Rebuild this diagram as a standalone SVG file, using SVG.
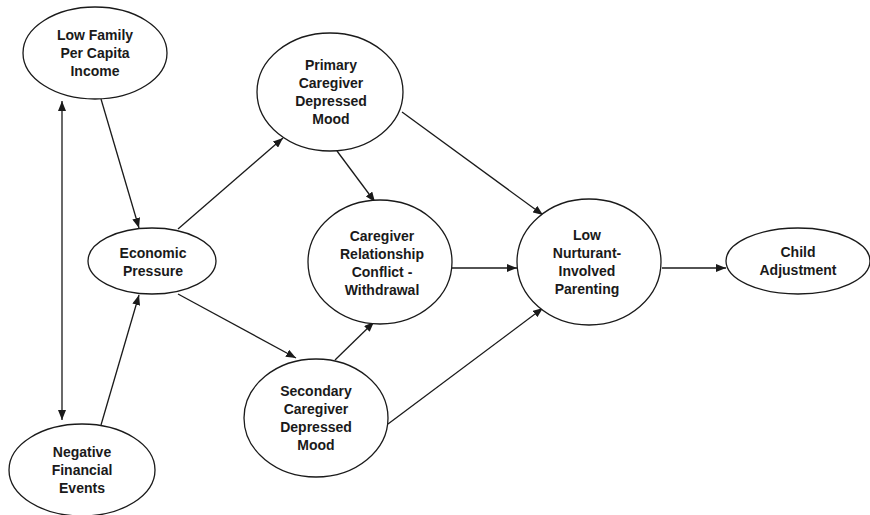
<svg xmlns="http://www.w3.org/2000/svg" width="870" height="515" viewBox="0 0 870 515">
<defs>
<marker id="ah" viewBox="0 0 10 8" refX="10" refY="4" markerWidth="10" markerHeight="8" markerUnits="userSpaceOnUse" orient="auto-start-reverse">
<path d="M0,0 L10,4 L0,8 Z" fill="#1a1a1a"/>
</marker>
<style>
.n ellipse{fill:#fff;stroke:#1a1a1a;stroke-width:1.3}
.n text{font-family:"Liberation Sans",Arial,sans-serif;font-weight:bold;font-size:14px;fill:#1a1a1a;text-anchor:middle}
.c line{stroke:#1a1a1a;stroke-width:1.3;marker-end:url(#ah)}
</style>
</defs>
<rect width="870" height="515" fill="#fff"/>
<g class="c" id="connectors">
<line x1="62" y1="420" x2="62" y2="101" marker-start="url(#ah)"/>
<line x1="101" y1="99" x2="139" y2="228"/>
<line x1="101" y1="425" x2="139" y2="295"/>
<line x1="178" y1="229" x2="283" y2="138"/>
<line x1="178" y1="294" x2="296" y2="358"/>
<line x1="337" y1="151" x2="375" y2="202"/>
<line x1="402" y1="112" x2="543" y2="215"/>
<line x1="335" y1="360" x2="374" y2="322"/>
<line x1="388" y1="424" x2="543" y2="308"/>
<line x1="452" y1="268" x2="517" y2="268"/>
<line x1="662" y1="268" x2="726" y2="268"/>
</g>
<g class="n" id="low-family-income">
<ellipse cx="95" cy="53" rx="72" ry="46"/>
<text x="95" y="40">Low Family</text><text x="95" y="58">Per Capita</text><text x="95" y="76">Income</text>
</g>
<g class="n" id="economic-pressure">
<ellipse cx="152" cy="261" rx="64" ry="33"/>
<text x="153" y="258">Economic</text><text x="153" y="276">Pressure</text>
</g>
<g class="n" id="negative-financial-events">
<ellipse cx="82" cy="470" rx="73" ry="46"/>
<text x="82" y="457">Negative</text><text x="82" y="475">Financial</text><text x="82" y="493">Events</text>
</g>
<g class="n" id="primary-caregiver">
<ellipse cx="330" cy="92" rx="73" ry="59"/>
<text x="331" y="70">Primary</text><text x="331" y="88">Caregiver</text><text x="331" y="106">Depressed</text><text x="331" y="124">Mood</text>
</g>
<g class="n" id="caregiver-relationship">
<ellipse cx="380" cy="262" rx="72" ry="62"/>
<text x="382" y="241">Caregiver</text><text x="382" y="259">Relationship</text><text x="382" y="277">Conflict -</text><text x="382" y="295">Withdrawal</text>
</g>
<g class="n" id="secondary-caregiver">
<ellipse cx="316" cy="418" rx="72" ry="59"/>
<text x="316" y="396">Secondary</text><text x="316" y="414">Caregiver</text><text x="316" y="432">Depressed</text><text x="316" y="450">Mood</text>
</g>
<g class="n" id="low-nurturant-parenting">
<ellipse cx="589" cy="262" rx="72" ry="63"/>
<text x="587" y="240">Low</text><text x="587" y="258">Nurturant-</text><text x="587" y="276">Involved</text><text x="587" y="294">Parenting</text>
</g>
<g class="n" id="child-adjustment">
<ellipse cx="798" cy="261" rx="72" ry="33"/>
<text x="798" y="257">Child</text><text x="798" y="275">Adjustment</text>
</g>
</svg>
